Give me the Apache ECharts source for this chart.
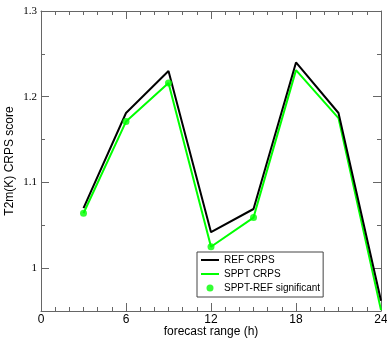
<!DOCTYPE html>
<html>
<head>
<meta charset="utf-8">
<script src="https://cdn.jsdelivr.net/npm/echarts@6/dist/echarts.min.js"></script>
<style>
  html, body { margin: 0; padding: 0; background: #fff; }
  #chart { width: 387px; height: 338px; }
</style>
</head>
<body>
<div id="chart"></div>
<script>
var leadHours = [3, 6, 9, 12, 15, 18, 21, 24];
var refCrps = [1.070, 1.181, 1.230, 1.042, 1.069, 1.240, 1.181, 0.962];
var spptCrps = [1.064, 1.171, 1.216, 1.025, 1.059, 1.231, 1.175, 0.951];
var significantHours = [3, 6, 9, 12, 15];
var yMajorTicks = [1, 1.1, 1.2, 1.3];
var yMinorTicks = [0.95, 1.05, 1.15, 1.25];

var myChart = echarts.init(document.getElementById('chart'), null, { renderer: 'canvas' });

function pairs(xs, ys) {
    return xs.map(function (x, i) { return [x, ys[i]]; });
}

var sigData = significantHours.map(function (h) {
    return [h, spptCrps[leadHours.indexOf(h)]];
});

var axisColor = '#666';

function xAxisOf(pos, showLabels) {
    return {
        type: 'value',
        position: pos,
        min: 0,
        max: 24,
        interval: 6,
        name: showLabels ? 'forecast range (h)' : '',
        nameLocation: 'middle',
        nameGap: 15,
        nameMoveOverlap: false,
        nameTextStyle: { fontFamily: 'Liberation Sans', fontSize: 12, color: '#000' },
        axisLine: { show: true, lineStyle: { color: axisColor, width: 1 } },
        axisTick: { show: true, inside: true, length: 8, lineStyle: { color: axisColor } },
        minorTick: { show: true, splitNumber: 6, length: 4, lineStyle: { color: axisColor } },
        axisLabel: {
            show: showLabels,
            margin: 3,
            fontFamily: 'Liberation Sans',
            fontSize: 12,
            color: '#000'
        },
        splitLine: { show: false }
    };
}

function yAxisOf(pos, ticks, len, showLabels, showLine) {
    return {
        type: 'value',
        position: pos,
        min: 0.95,
        max: 1.3,
        name: showLabels ? 'T2m(K) CRPS score' : '',
        nameLocation: 'middle',
        nameGap: 25,
        nameMoveOverlap: false,
        nameTextStyle: { fontFamily: 'Liberation Sans', fontSize: 12, color: '#000' },
        axisLine: { show: showLine, lineStyle: { color: axisColor, width: 1 } },
        axisTick: { show: true, inside: true, length: len, customValues: ticks, lineStyle: { color: axisColor } },
        axisLabel: {
            show: showLabels,
            customValues: ticks,
            margin: 4,
            fontFamily: 'Liberation Serif',
            fontSize: 11,
            color: '#000',
            formatter: function (v) { return String(Math.round(v * 10) / 10); }
        },
        splitLine: { show: false }
    };
}

var option = {
    animation: false,
    grid: { left: 41, right: 6, top: 11, bottom: 27, outerBoundsMode: 'none', containLabel: false },
    legend: {
        orient: 'vertical',
        left: 197,
        top: 252,
        padding: [3, 3, 4, 3],
        itemWidth: 18,
        itemHeight: 7,
        itemGap: 4,
        borderColor: '#444',
        borderWidth: 1,
        textStyle: { fontFamily: 'Liberation Sans', fontSize: 10, color: '#000' },
        data: [
            { name: 'REF CRPS', itemStyle: { opacity: 0 } },
            { name: 'SPPT CRPS', itemStyle: { opacity: 0 } },
            { name: 'SPPT-REF significant', icon: 'circle' }
        ]
    },
    xAxis: [xAxisOf('bottom', true), xAxisOf('top', false)],
    yAxis: [
        yAxisOf('left', yMajorTicks, 8, true, true),
        yAxisOf('left', yMinorTicks, 4, false, false),
        yAxisOf('right', yMajorTicks, 8, false, true),
        yAxisOf('right', yMinorTicks, 4, false, false)
    ],
    series: [
        {
            name: 'SPPT CRPS',
            type: 'line',
            data: pairs(leadHours, spptCrps),
            symbol: 'none',
            lineStyle: { color: '#00ff00', width: 2 },
            itemStyle: { color: '#00ff00' },
            z: 2
        },
        {
            name: 'REF CRPS',
            type: 'line',
            data: pairs(leadHours, refCrps),
            symbol: 'none',
            lineStyle: { color: '#000', width: 2 },
            itemStyle: { color: '#000' },
            z: 3
        },
        {
            name: 'SPPT-REF significant',
            type: 'scatter',
            data: sigData,
            symbolSize: 7,
            itemStyle: { color: '#00ff00' },
            z: 4
        }
    ]
};

myChart.setOption(option);
</script>
</body>
</html>
